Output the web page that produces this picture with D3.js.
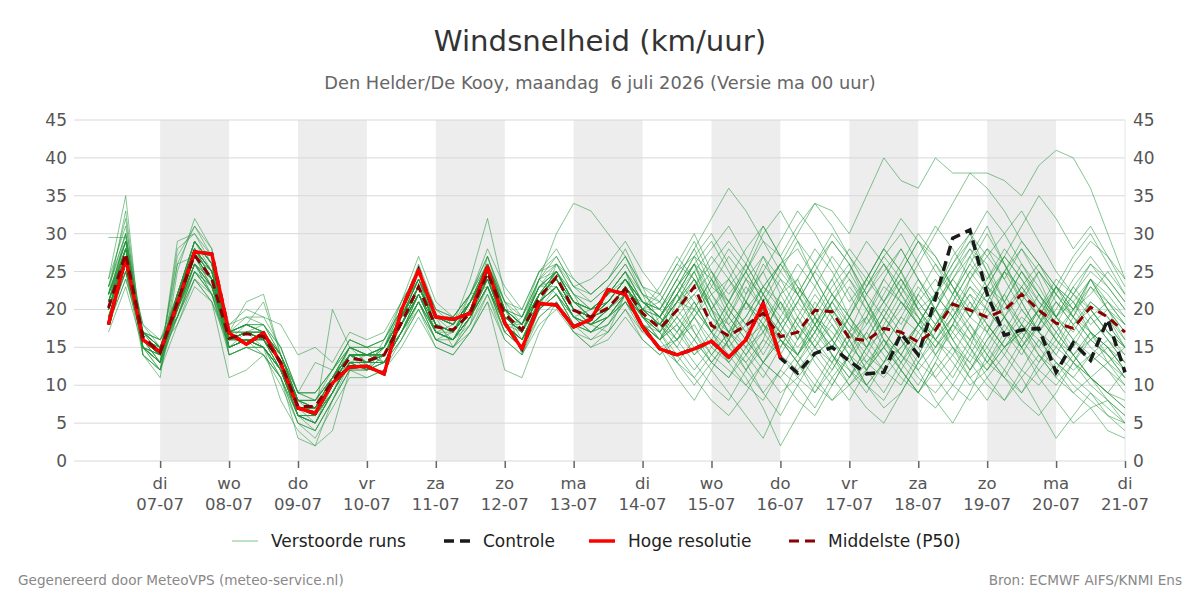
<!DOCTYPE html>
<html>
<head>
<meta charset="utf-8">
<script src="https://cdn.jsdelivr.net/npm/d3@7"></script>
<style>
body{margin:0;background:#fff;}
text{font-family:"DejaVu Sans",sans-serif;}
</style>
</head>
<body>
<script>
var width=1200, height=600;

// tijdas: 6-uurlijkse stappen vanaf ma 06-07 06 uur
var startTijd=Date.UTC(2026,6,6,6);
var stapUren=6;

var dagNamen=["di","wo","do","vr","za","zo","ma","di","wo","do","vr","za","zo","ma","di"];
var dagDatums=["07-07","08-07","09-07","10-07","11-07","12-07","13-07","14-07","15-07","16-07","17-07","18-07","19-07","20-07","21-07"];
var yTicks=[0,5,10,15,20,25,30,35,40,45];

var hogeResolutie=[18,26.8,16,14.4, 20.8,27.6,27.3,16.9, 15.4,16.9,12.9,7, 6.3,10.3,12.4,12.5, 11.5,19.9,25.2,19, 18.7,19.5,25.6,18.2, 14.8,20.8,20.6,17.7, 18.7,22.6,22,17.7, 14.8,14,14.8,15.8, 13.7,16,20.8,13.6];

var controle=[18,26.8,16,14.4, 20.8,27.6,27.3,16.9, 15.4,16.9,12.9,7, 6.3,10.3,12.4,12.5, 11.5,19.9,25.2,19, 18.7,19.5,25.6,18.2, 14.8,20.8,20.6,17.7, 18.7,22.6,22,17.7, 14.8,14,14.8,15.8, 13.7,16,20.8,13.6,
  11.6,14.2,15,13.2, 11.5,11.7,16.8,14, 21.5,29.4,30.5,22, 16.6,17.3,17.5,11.7, 15.6,13.3,18.7,11.7];

var middelste=[20.2,27.4,16.4,14.3, 21,27.2,24,16.2, 16.8,16.4,13,7.2, 7.2,10.5,13.6,13.2, 14,18.2,23,17.7, 17.3,19.5,24.8,19.4, 17.3,21.5,24.3,19.9, 19,20.2,22.7,19.5,
  17.5,19.9,23,17.9, 16.5,17.9,19.5,16.4, 17,19.9,19.7,16.2, 15.9,17.5,17,15.7, 17.3,20.7,19.9,19, 19.9,22,19.9,18.2, 17.5,20.3,19,17];

var verstoordeRuns=[
[22,29,15,13, 22,29,26,15, 16,15,12,6, 5,9,13,14, 15,19,24,17, 16,19,26,20, 16,21,25,22, 18,17,22,21, 19,17,14,16, 20,24,27,22, 18,15,13,17, 22,26,23,19, 14,11,15,21, 25,28,24,19, 16,14,12,10],
[19,26,17,15, 20,26,23,17, 21,22,14,8, 6,20,15,14, 13,17,22,19, 18,21,24,18, 18,23,23,19, 20,22,25,19, 17,22,26,20, 15,13,16,22, 24,19,14,10, 12,17,21,18, 22,27,30,25, 19,15,18,23, 21,17,13,15],
[24,35,14,12, 26,31,28,14, 15,14,10,5, 4,8,12,12, 16,20,25,19, 15,18,27,21, 14,20,26,24, 22,24,28,23, 21,25,29,24, 19,16,13,11, 14,19,23,26, 21,16,12,9, 13,18,24,28, 26,21,17,15, 19,24,20,16],
[18,24,17,16, 19,25,22,18, 19,18,15,9, 8,12,16,15, 13,16,21,16, 17,22,23,17, 19,24,22,18, 17,19,21,18, 16,18,21,17, 13,10,8,12, 16,21,18,14, 10,13,17,22, 19,15,11,8, 12,16,20,18, 14,11,9,7],
[21,28,16,14, 21,28,25,16, 17,18,14,8, 7,11,15,14, 14,18,22,17, 18,21,25,19, 18,22,24,21, 19,21,24,20, 18,21,24,19, 17,19,23,21, 16,20,24,19, 15,17,21,19, 16,19,23,21, 19,22,25,21, 18,20,17,15],
[23,30,16,13, 29,30,27,15, 16,14,11,6, 6,9,13,12, 15,20,26,20, 18,24,32,22, 19,25,27,23, 21,23,26,22, 20,24,28,23, 21,26,31,27, 22,18,15,19, 24,28,25,20, 17,22,27,31, 26,22,19,23, 27,30,26,22],
[17,23,15,14, 19,24,21,11, 12,14,11,5, 3,7,11,11, 12,15,19,15, 14,17,21,12, 11,17,21,17, 16,17,20,17, 15,16,18,14, 12,10,13,16, 14,11,8,10, 13,15,12,9, 7,10,14,12, 15,18,14,11, 9,7,8,6],
[20,27,18,15, 22,28,24,17, 18,17,13,7, 7,10,14,14, 14,19,23,18, 17,20,26,19, 17,22,25,20, 19,20,23,20, 22,26,24,19, 16,22,27,24, 20,17,21,25, 29,26,22,18, 20,24,28,26, 21,17,20,24, 22,19,21,18],
[22,33,15,12, 20,26,23,16, 17,15,12,6, 5,10,15,13, 15,21,27,21, 19,22,27,20, 18,24,27,23, 24,26,29,25, 22,19,16,13, 11,15,19,17, 14,18,22,25, 21,17,14,18, 22,19,16,20, 25,23,19,16, 20,24,21,19],
[19,25,16,15, 18,23,21,15, 16,15,12,7, 6,10,13,13, 13,17,20,16, 15,18,22,17, 15,19,21,18, 17,18,22,18, 15,13,11,14, 17,15,12,9, 11,14,16,13, 10,7,9,13, 16,14,11,13, 17,15,12,10, 13,16,14,11],
[29.5,29.5,17,14, 26,27,25,16, 17,16,13,8, 8,11,14,14, 14,18,22,18, 16,20,24,19, 17,21,23,20, 18,20,23,19, 18,21,20,17, 19,24,22,18, 21,25,29,26, 22,19,23,27, 31,28,24,27, 30,33,29,25, 22,26,23,20],
[21,28,14,12, 22,29,26,16, 18,21,14,9, 9,12,16,15, 16,20,24,19, 18,21,26,20, 18,23,25,22, 20,21,24,21, 19,16,13,10, 8,12,16,14, 11,9,13,17, 15,12,10,14, 18,21,17,13, 11,15,19,16, 13,11,9,8],
[20,26,17,16, 20,26,22,17, 17,16,14,9, 8,11,14,13, 13,17,21,17, 16,18,23,18, 16,20,22,19, 18,19,22,19, 17,20,22,18, 16,19,23,26, 28,24,20,17, 19,23,21,18, 15,18,22,20, 17,21,25,22, 19,17,15,13],
[18,27,15,13, 21,28,24,14, 15,15,8,4, 2,4,12,12, 14,18,22,17, 16,19,23,18, 16,21,23,19, 18,20,22,18, 16,18,15,12, 9,6,3,8, 13,17,14,11, 15,19,16,12, 8,5,9,14, 18,15,11,8, 5,7,4,3],
[22,28,16,13, 28,30,26,17, 19,19,18,14, 15,13,17,16, 17,21,25,20, 19,22,28,23, 20,25,28,24, 22,24,27,22, 21,25,27,22, 24,28,31,27, 23,20,24,28, 25,21,18,22, 26,23,19,17, 21,25,22,19, 23,26,24,21],
[21,27,16,14, 21,27,24,16, 16,16,13,7, 6,10,14,13, 14,18,23,18, 17,20,25,19, 17,22,24,20, 19,20,23,20, 19,23,26,21, 17,14,17,21, 18,15,19,23, 20,16,13,16, 20,24,21,17, 14,18,22,19, 16,13,15,12],
[19,25,17,15, 19,25,23,17, 18,17,14,8, 7,11,14,14, 15,19,23,19, 18,21,24,20, 19,23,24,21, 20,22,24,21, 20,23,26,24, 21,25,30,33, 29,24,20,16, 12,15,19,23, 20,16,13,17, 22,26,23,19, 21,24,20,17],
[23,32,14,11, 25,32,28,15, 16,15,11,6, 4,8,13,12, 14,19,24,18, 17,21,26,20, 17,24,30,34, 33,30,27,23, 18,22,17,13, 16,21,25,20, 17,13,10,14, 19,24,28,24, 20,25,29,33, 30,26,22,18, 15,19,16,14],
[20,26,15,14, 20,26,24,15, 17,16,12,6, 5,9,13,13, 14,17,22,17, 16,20,24,18, 16,21,23,20, 18,19,22,19, 17,14,11,8, 6,9,13,11, 8,6,10,14, 17,14,11,9, 12,15,13,10, 8,11,14,12, 9,11,13,10],
[22,29,17,15, 22,29,25,17, 18,18,14,8, 8,11,15,15, 16,21,25,20, 19,22,27,21, 19,24,26,22, 20,22,25,21, 19,23,27,30, 26,22,25,29, 33,30,26,22, 18,21,25,29, 27,23,20,24, 28,25,21,18, 22,20,17,15],
[18,24,16,15, 19,24,21,16, 17,17,14,9, 9,12,15,14, 13,16,20,16, 15,17,21,16, 14,18,20,17, 15,16,19,16, 14,16,19,15, 13,16,18,14, 12,15,18,15, 13,16,14,12, 15,18,16,13, 16,19,17,14, 12,14,16,13],
[21,30,16,14, 22,29,26,16, 17,16,12,7, 6,9,13,13, 15,19,24,19, 17,21,26,20, 18,23,25,21, 19,21,24,21, 19,22,25,20, 18,21,19,16, 14,17,21,18, 16,20,24,21, 18,22,26,23, 21,25,22,19, 17,21,19,16],
[19,27,15,13, 20,27,23,15, 16,15,12,7, 6,10,14,12, 13,17,22,17, 16,19,24,18, 16,21,23,19, 17,19,21,18, 16,21,25,20, 15,12,15,19, 23,20,16,12, 10,13,17,21, 24,20,17,14, 11,9,12,15, 13,10,8,5],
[24,31,17,14, 27,31,27,18, 20,19,15,9, 13,12,16,15, 16,20,24,19, 19,22,26,21, 20,25,26,23, 22,24,27,23, 22,26,30,25, 20,17,20,24, 22,18,15,19, 23,27,24,20, 22,26,30,27, 24,28,25,22, 26,29,27,24],
[20,27,16,14, 20,26,24,16, 16,16,12,6, 5,9,13,13, 13,17,21,17, 16,19,23,18, 16,20,22,19, 17,18,21,18, 16,19,16,13, 11,14,18,16, 13,16,20,17, 14,12,15,18, 16,13,10,12, 15,17,14,11, 14,17,15,12],
[21,27,17,15, 21,27,25,17, 18,17,13,8, 7,11,14,14, 14,19,23,19, 18,21,25,20, 18,23,25,21, 20,22,25,22, 20,24,28,32, 36,33,29,25, 22,26,30,27, 24,21,25,29, 26,22,19,23, 27,24,21,19, 22,25,23,20],
[18,25,14,12, 18,24,22,14, 15,14,11,5, 4,8,12,11, 12,16,20,15, 14,17,22,16, 14,19,21,17, 15,17,20,16, 14,17,21,17, 15,18,22,19, 16,19,17,14, 12,15,19,17, 14,17,21,18, 15,18,16,13, 11,14,12,9],
[22,28,18,16, 22,28,25,17, 18,18,15,9, 9,12,15,15, 15,19,24,19, 18,21,25,20, 19,24,25,21, 20,21,24,21, 19,22,26,22, 19,16,13,17, 21,18,14,11, 14,18,22,26, 30,34,38,36, 33,29,26,23, 20,24,22,19],
[20,28,16,13, 21,28,25,16, 17,16,13,7, 6,10,14,13, 14,18,22,18, 17,20,25,19, 17,22,24,20, 19,20,23,19, 18,15,12,15, 19,23,20,16, 13,10,8,11, 15,19,16,13, 17,21,18,14, 11,8,6,9, 13,11,8,6],
[19,26,15,14, 20,27,23,15, 16,15,12,7, 5,9,13,12, 13,17,21,16, 15,19,23,17, 15,20,22,18, 16,18,21,17, 19,23,27,25, 22,25,29,27, 31,34,33,30, 35,40,37,36, 40,38,38,38, 37,35,39,41, 40,36,30,24],
[21,28,17,15, 20,25,23,17, 18,17,14,8, 7,10,14,14, 15,20,24,19, 18,22,26,21, 18,23,26,22, 21,23,26,22, 17,13,16,20, 24,21,17,14, 18,22,19,16, 12,9,13,17, 20,16,12,15, 19,23,20,16, 13,17,15,12],
[20,27,16,14, 22,27,24,16, 17,16,13,7, 7,11,14,13, 14,18,23,18, 17,20,25,19, 17,22,24,20, 19,20,23,20, 23,27,24,20, 17,21,26,23, 19,15,12,16, 20,24,21,18, 22,26,29,25, 21,18,15,19, 23,20,17,14],
[23,30,15,12, 21,29,26,14, 15,15,11,3, 2,8,12,13, 14,19,23,19, 18,21,26,20, 18,22,24,21, 19,21,24,21, 20,24,21,17, 14,11,7,2, 6,10,14,12, 9,13,17,15, 11,8,12,16, 19,16,13,17, 14,11,9,7],
[18,26,15,13, 19,26,22,15, 16,15,12,6, 6,9,13,12, 13,17,21,16, 16,19,23,18, 16,20,23,19, 18,20,22,19, 16,19,22,25, 21,18,22,26, 23,19,16,20, 24,28,25,21, 18,21,25,22, 19,15,18,22, 20,17,14,12],
[22,27,16,15, 21,28,24,17, 17,17,13,8, 7,11,15,14, 15,18,22,17, 16,19,24,18, 17,21,23,19, 18,19,22,18, 15,11,8,12, 16,13,9,6, 10,14,11,8, 12,16,13,10, 14,18,15,11, 8,12,16,13, 10,8,6,4],
[20,28,16,14, 21,28,25,16, 16,16,13,7, 6,10,14,13, 14,18,22,18, 17,20,24,19, 17,22,24,20, 19,21,24,20, 18,22,26,29, 25,21,18,22, 26,23,19,15, 18,22,26,30, 27,23,19,22, 25,21,17,20, 24,27,24,21],
[19,25,17,16, 20,25,22,16, 17,17,14,8, 8,11,14,14, 14,17,21,17, 16,19,23,18, 16,20,22,19, 18,19,22,18, 17,20,17,14, 17,21,18,15, 19,23,27,24, 20,17,14,11, 9,12,16,19, 22,18,15,12, 16,19,16,13],
[21,29,15,13, 22,29,26,16, 17,16,12,6, 5,9,14,13, 15,19,24,19, 18,21,26,20, 18,23,25,21, 20,22,25,21, 19,22,19,23, 27,24,20,17, 21,25,22,18, 15,19,23,20, 17,21,25,28, 24,20,17,21, 19,16,18,15],
[20,26,16,14, 20,26,23,16, 17,16,13,7, 7,10,13,13, 13,18,22,17, 16,20,24,18, 16,21,23,19, 18,20,23,19, 17,20,24,21, 17,14,11,15, 19,16,13,10, 7,5,9,13, 11,14,18,15, 12,9,13,16, 14,11,9,12],
[22,29,16,14, 22,28,25,17, 18,17,14,8, 7,11,15,14, 15,19,23,18, 17,21,25,20, 18,22,25,21, 19,21,24,20, 18,21,25,28, 31,27,23,20, 24,28,25,21, 24,28,32,29, 25,22,26,30, 26,22,19,23, 21,18,20,17],
[21,27,15,13, 21,27,24,15, 16,15,12,6, 6,10,13,13, 14,18,22,17, 17,20,25,19, 17,22,24,20, 18,20,23,20, 21,18,14,17, 21,18,14,18, 22,19,16,13, 17,21,24,20, 16,19,23,20, 17,14,18,21, 18,15,13,11],
[20,27,17,15, 21,27,24,17, 17,17,13,7, 7,11,14,14, 14,18,23,18, 17,21,24,19, 17,21,24,20, 19,20,23,20, 19,16,19,22, 18,15,17,21, 17,14,16,19, 16,13,15,18, 15,19,22,18, 15,17,20,17, 14,16,18,15],
[19,26,16,14, 20,26,23,16, 16,16,13,7, 6,10,14,13, 13,17,22,17, 16,19,24,18, 16,21,23,19, 17,19,22,19, 18,21,24,20, 23,26,22,18, 14,17,21,24, 21,17,20,24, 20,16,19,23, 27,24,20,17, 20,23,20,18],
[23,29,16,14, 22,29,26,16, 17,17,13,7, 7,10,14,14, 15,19,24,18, 17,21,26,20, 18,22,25,21, 20,22,25,21, 20,17,20,24, 20,17,13,16, 13,9,12,16, 19,15,12,16, 20,17,14,18, 15,12,10,13, 11,9,6,5],
[20,27,15,14, 21,27,24,15, 16,15,12,6, 6,9,13,13, 14,18,22,18, 17,20,25,19, 17,22,24,20, 18,20,23,19, 16,20,23,27, 24,20,23,26, 22,26,29,26, 22,25,28,24, 21,24,27,23, 20,23,26,23, 20,22,25,22],
[21,28,16,14, 21,28,25,16, 17,16,13,7, 7,10,14,13, 14,19,23,18, 17,20,25,19, 17,22,24,20, 19,21,24,20, 18,16,20,17, 21,25,21,18, 15,18,22,19, 16,20,17,14, 18,15,12,16, 19,16,20,23, 19,16,14,11],
[20,27,16,14, 21,27,24,16, 17,16,13,7, 7,10,14,13, 14,18,23,18, 17,20,25,19, 17,22,24,20, 19,20,23,20, 18,15,19,16, 13,16,20,17, 14,18,21,17, 13,11,14,18, 22,19,15,12, 16,20,17,14, 18,21,19,15],
[22,28,17,15, 22,28,25,17, 18,17,14,8, 8,11,15,14, 15,19,23,19, 18,21,25,20, 18,22,25,21, 20,21,24,21, 19,23,20,24, 28,25,21,25, 29,26,22,19, 23,26,22,19, 16,20,24,21, 25,29,26,22, 19,23,21,18],
[19,25,15,13, 19,25,22,15, 16,15,12,6, 5,9,13,12, 13,17,21,17, 16,19,23,17, 15,20,22,18, 17,19,21,18, 16,13,10,13, 16,12,9,12, 10,7,11,14, 10,8,12,9, 13,10,8,11, 14,11,7,3, 6,9,7,5],
[20,27,16,14, 20,27,24,16, 17,16,13,7, 7,10,14,14, 14,18,23,18, 17,21,25,19, 17,22,24,20, 19,20,23,20, 18,21,23,26, 29,26,22,26, 30,34,31,27, 23,27,30,26, 22,25,28,24, 27,31,35,32, 28,31,27,23]
];

var legendaNamen=["Verstoorde runs","Controle","Hoge resolutie","Middelste (P50)"];

var tijd=function(i){ return new Date(startTijd+i*stapUren*3600*1000); };

var svg=d3.select("body")
    .append("svg")
    .attr("width",width)
    .attr("height",height);

var x=d3.scaleUtc()
    .domain([new Date(Date.UTC(2026,6,5,18)),new Date(Date.UTC(2026,6,21,0))])
    .range([74,1125]);
var y=d3.scaleLinear()
    .domain([0,45])
    .range([461,120]);

var dagen=dagDatums.map(function(d,i){ return new Date(Date.UTC(2026,6,7+i)); });

// afwisselende grijze dagbanden
svg.selectAll("rect.band")
    .data(dagen.filter(function(d,i){ return i%2==0 && i<dagen.length-1; }))
    .enter()
    .append("rect")
    .attr("class","band")
    .attr("x",function(d){ return x(d); })
    .attr("y",y(45))
    .attr("width",function(d){ return x(new Date(+d+86400000))-x(d); })
    .attr("height",y(0)-y(45))
    .attr("fill","#ededed");

svg.selectAll("line.grid")
    .data(yTicks)
    .enter()
    .append("line")
    .attr("class","grid")
    .attr("x1",74).attr("x2",1125)
    .attr("y1",function(d){ return y(d); })
    .attr("y2",function(d){ return y(d); })
    .attr("stroke","#d8d8d8")
    .attr("stroke-width",1);

svg.append("line")
    .attr("x1",1125).attr("x2",1125)
    .attr("y1",y(45)).attr("y2",y(0))
    .attr("stroke","#e6e6e6");

var lijn=d3.line()
    .x(function(d,i){ return x(tijd(i)); })
    .y(function(d){ return y(d); });

svg.append("g")
    .selectAll("path")
    .data(verstoordeRuns)
    .enter()
    .append("path")
    .attr("d",lijn)
    .attr("fill","none")
    .attr("stroke","#23953a")
    .attr("stroke-opacity",0.55)
    .attr("stroke-width",1);

svg.append("path")
    .attr("d",lijn(controle))
    .attr("fill","none")
    .attr("stroke","#1a1a1a")
    .attr("stroke-width",3.5)
    .attr("stroke-dasharray","10,6");

svg.append("path")
    .attr("d",lijn(hogeResolutie))
    .attr("fill","none")
    .attr("stroke","#ff0000")
    .attr("stroke-width",3.5)
    .attr("stroke-linejoin","round");

svg.append("path")
    .attr("d",lijn(middelste))
    .attr("fill","none")
    .attr("stroke","#8b0000")
    .attr("stroke-width",3)
    .attr("stroke-dasharray","9,6");

// y-as links en rechts
var yLinks=d3.axisLeft(y).tickValues(yTicks).tickSize(0).tickPadding(7);
var yRechts=d3.axisRight(y).tickValues(yTicks).tickSize(0).tickPadding(8);
svg.append("g").attr("transform","translate(74,0)").call(yLinks)
    .call(function(g){ g.select(".domain").remove(); })
    .selectAll("text").style("font-size","17px").attr("fill","#555");
svg.append("g").attr("transform","translate(1125,0)").call(yRechts)
    .call(function(g){ g.select(".domain").remove(); })
    .selectAll("text").style("font-size","17px").attr("fill","#555");

// x-as met dag en datum
var xAs=d3.axisBottom(x).tickValues(dagen).tickSize(7).tickFormat("");
var xg=svg.append("g").attr("transform","translate(0,"+y(0)+")").call(xAs);
xg.select(".domain").remove();
xg.selectAll(".tick line").attr("stroke","#666").attr("stroke-width",1.5);
var lbl=svg.append("g").selectAll("text.dag")
    .data(dagen)
    .enter()
    .append("text")
    .attr("text-anchor","middle")
    .attr("x",function(d){ return x(d); })
    .style("font-size","16.5px")
    .attr("fill","#555");
lbl.append("tspan").attr("x",function(d){ return x(d); }).attr("y",489)
    .text(function(d,i){ return dagNamen[i]; });
lbl.append("tspan").attr("x",function(d){ return x(d); }).attr("y",510)
    .text(function(d,i){ return dagDatums[i]; });

// titels
svg.append("text").attr("x",600).attr("y",51).attr("text-anchor","middle")
    .style("font-size","29.2px").attr("fill","#333").text("Windsnelheid (km/uur)");
svg.append("text").attr("x",600).attr("y",89).attr("text-anchor","middle")
    .style("font-size","17.8px").style("white-space","pre").attr("fill","#666")
    .text("Den Helder/De Kooy, maandag  6 juli 2026 (Versie ma 00 uur)");

// legenda
var legX=[232,444,589,789];
var leg=svg.append("g").selectAll("g")
    .data(legendaNamen)
    .enter()
    .append("g")
    .attr("transform",function(d,i){ return "translate("+legX[i]+",541)"; });
leg.append("line")
    .attr("x1",0).attr("x2",26).attr("y1",0).attr("y2",0)
    .attr("stroke",function(d,i){ return ["#7cc08a","#1a1a1a","#ff0000","#8b0000"][i]; })
    .attr("stroke-width",function(d,i){ return [1,3.5,3.5,3][i]; })
    .attr("stroke-dasharray",function(d,i){ return (i==1||i==3)?"10,6":null; });
leg.append("text")
    .attr("x",39).attr("y",6)
    .style("font-size","17px")
    .attr("fill","#222")
    .text(function(d){ return d; });

svg.append("text").attr("x",18).attr("y",585)
    .style("font-size","13.6px").attr("fill","#888").text("Gegenereerd door MeteoVPS (meteo-service.nl)");
svg.append("text").attr("x",1182).attr("y",585).attr("text-anchor","end")
    .style("font-size","13.6px").attr("fill","#888").text("Bron: ECMWF AIFS/KNMI Ens");
</script>
</body>
</html>
